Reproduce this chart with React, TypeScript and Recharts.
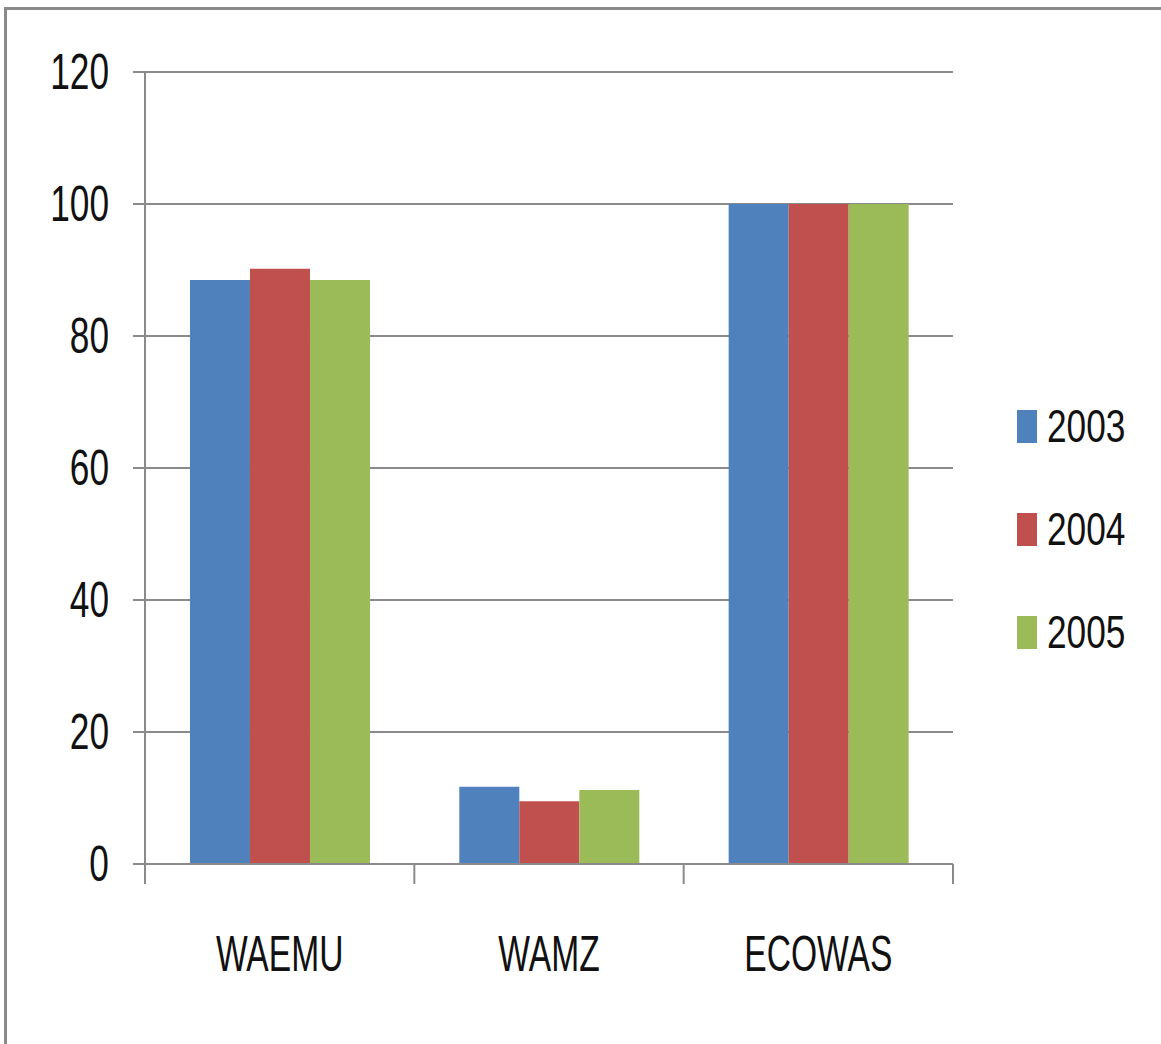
import { BarChart, Bar, XAxis, YAxis, CartesianGrid, Legend } from "recharts"

const regions = ["WAEMU", "WAMZ", "ECOWAS"]
const y2003 = [88.5, 11.7, 100]
const y2004 = [90.2, 9.5, 100]
const y2005 = [88.5, 11.2, 100]
const yTicks = [0, 20, 40, 60, 80, 100, 120]

const series = [
  { key: "2003", color: "#4F81BD" },
  { key: "2004", color: "#C0504D" },
  { key: "2005", color: "#9BBB59" },
]

const data = regions.map((r, i) => ({
  region: r,
  "2003": y2003[i],
  "2004": y2004[i],
  "2005": y2005[i],
}))

const FONT = '"Liberation Sans", Arial, sans-serif'
const AXIS = "#8a8a8a"

function YTick({ x, y, payload }: any) {
  return (
    <g transform={`translate(${x},${y})`}>
      <text
        x={0}
        y={0}
        textAnchor="end"
        dominantBaseline="central"
        transform="scale(0.84,1.2)"
        fontFamily={FONT}
        fontSize={42}
        fill="#111"
      >
        {payload.value}
      </text>
    </g>
  )
}

function XTick({ x, y, payload, index }: any) {
  const half = payload.offset ?? 0
  return (
    <g>
      <line x1={x - half} x2={x - half} y1={y} y2={y + 20} stroke={AXIS} strokeWidth={2} />
      {index === regions.length - 1 && (
        <line x1={x + half} x2={x + half} y1={y} y2={y + 20} stroke={AXIS} strokeWidth={2} />
      )}
      <g transform={`translate(${x},${y + 89})`}>
        <text
          x={0}
          y={0}
          textAnchor="middle"
          dominantBaseline="central"
          transform="scale(0.8,1.2)"
          fontFamily={FONT}
          fontSize={42}
          fill="#111"
        >
          {payload.value}
        </text>
      </g>
    </g>
  )
}

function LegendBox() {
  return (
    <div style={{ width: 144, fontFamily: FONT }}>
      {series.map((s) => (
        <div key={s.key} style={{ height: 103, display: "flex", alignItems: "center" }}>
          <span style={{ width: 20, height: 33, background: s.color, display: "inline-block" }} />
          <span
            style={{
              marginLeft: 10,
              fontSize: 42,
              color: "#111",
              display: "inline-block",
              transform: "scale(0.84,1.08)",
              transformOrigin: "left center",
              lineHeight: 1,
            }}
          >
            {s.key}
          </span>
        </div>
      ))}
    </div>
  )
}

export default function App() {
  return (
    <div style={{ position: "absolute", left: 0, top: 0, width: 1161, height: 1044, background: "#fff" }}>
      <div
        style={{
          position: "absolute",
          left: 4,
          top: 7,
          right: 0,
          bottom: 0,
          borderTop: `3px solid ${AXIS}`,
          borderLeft: `3px solid ${AXIS}`,
        }}
      />
      <BarChart
        width={1161}
        height={1044}
        data={data}
        margin={{ top: 72, right: 64, left: 45, bottom: 80 }}
        barCategoryGap="16.7%"
        barGap={0}
      >
        <CartesianGrid vertical={false} stroke={AXIS} strokeWidth={2} />
        <XAxis
          dataKey="region"
          height={100}
          tickLine={false}
          tickSize={0}
          tickMargin={0}
          axisLine={{ stroke: AXIS, strokeWidth: 2 }}
          tick={<XTick />}
          interval={0}
        />
        <YAxis
          width={100}
          domain={[0, 120]}
          ticks={yTicks}
          tickSize={12}
          tickMargin={24}
          tickLine={{ stroke: AXIS, strokeWidth: 2 }}
          axisLine={{ stroke: AXIS, strokeWidth: 2 }}
          tick={<YTick />}
        />
        <Legend
          layout="vertical"
          align="right"
          verticalAlign="middle"
          content={<LegendBox />}
          wrapperStyle={{ left: 1017, top: 375, right: "auto", width: 144 }}
        />
        {series.map((s) => (
          <Bar key={s.key} dataKey={s.key} fill={s.color} isAnimationActive={false} />
        ))}
      </BarChart>
    </div>
  )
}
